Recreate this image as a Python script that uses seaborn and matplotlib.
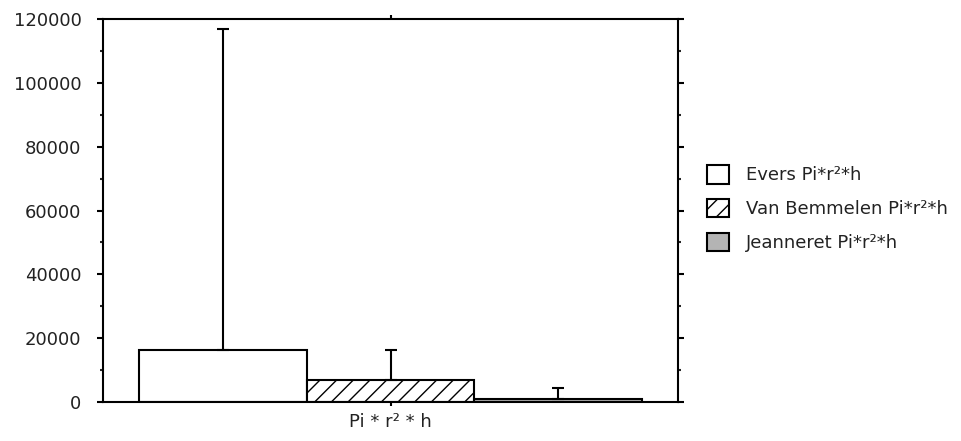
import pandas as pd
import seaborn as sns
import matplotlib.pyplot as plt
from matplotlib.ticker import MultipleLocator

# values
category = ["Pi * r\u00b2 * h"]
series = ["Evers Pi*r\u00b2*h", "Van Bemmelen Pi*r\u00b2*h", "Jeanneret Pi*r\u00b2*h"]
means = [16300, 6900, 1000]
upper = [117000, 16300, 4300]   # top of each error bar
colors = ["white", "white", "#b4b4b4"]
hatches = ["", "//", ""]

df = pd.DataFrame({"cat": category * len(series), "series": series, "value": means})

sns.set_style("white")
plt.rcParams["font.family"] = ["DejaVu Sans"]

fig = plt.figure(figsize=(9.61, 4.41), dpi=100)
ax = fig.add_axes([103 / 961, 39 / 441, 575 / 961, 383 / 441])

sns.barplot(data=df, x="cat", y="value", hue="series", hue_order=series,
            palette=colors, edgecolor="black", linewidth=1.5, errorbar=None,
            width=0.8, ax=ax, legend=True)

for cont, h, top in zip(ax.containers, hatches, upper):
    bar = cont[0]
    bar.set_hatch(h)
    x = bar.get_x() + bar.get_width() / 2
    y = bar.get_height()
    ax.errorbar([x], [y], yerr=[[0], [top - y]], fmt="none", ecolor="black",
                elinewidth=1.5, capsize=4, capthick=1.5, zorder=3)

ax.set_xlim(-0.457, 0.457)
ax.set_ylim(0, 120000)
ax.yaxis.set_major_locator(MultipleLocator(20000))
ax.yaxis.set_minor_locator(MultipleLocator(10000))
ax.set_xlabel("")
ax.set_ylabel("")

for s in ax.spines.values():
    s.set_visible(True)
    s.set_color("black")
    s.set_linewidth(1.5)

ax.tick_params(axis="y", which="major", direction="out", length=4.5, width=1.5,
               left=True, right=True, labelsize=13, pad=11, colors="black")
ax.tick_params(axis="y", which="minor", direction="out", length=2.2, width=1.5,
               left=True, right=True)
ax.tick_params(axis="x", direction="out", length=3, width=1.5, top=True,
               bottom=True, labelsize=13, pad=5, colors="black")
for lab in ax.get_yticklabels() + ax.get_xticklabels():
    lab.set_color("#222222")

handles, labels = ax.get_legend_handles_labels()
for hd, h in zip(handles, hatches):
    hd.set_hatch(h)
leg = ax.legend(handles, labels, loc="upper left",
                bbox_to_anchor=(707 / 961, 1 - 165 / 441),
                bbox_transform=fig.transFigure, frameon=False, fontsize=13,
                borderpad=0, borderaxespad=0, handlelength=1.2, handleheight=1.2,
                handletextpad=0.95, labelspacing=0.8)
for t in leg.get_texts():
    t.set_color("#222222")

fig.savefig("out.png", dpi=100)
